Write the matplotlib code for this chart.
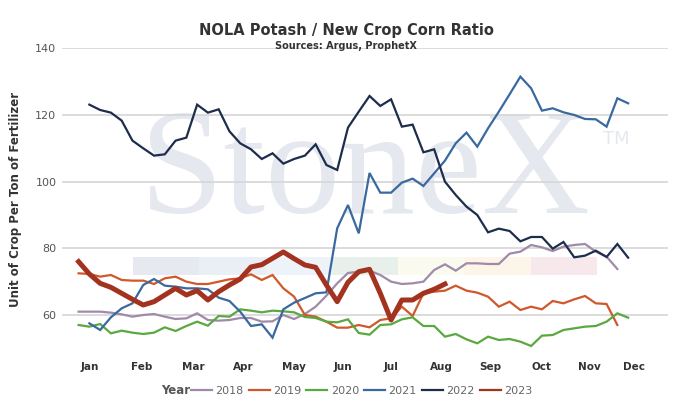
import matplotlib
matplotlib.use("Agg")
import matplotlib.pyplot as plt
from matplotlib.patches import Rectangle
from matplotlib.lines import Line2D

# ---------------- data ----------------
years = ["2018", "2019", "2020", "2021", "2022", "2023"]

weeks_2018 = list(range(1, 52))
val_2018 = [61.0, 61.0, 61.0, 60.7, 60.2, 59.5, 60.0, 60.3, 59.5, 58.8,
            59.0, 60.5, 58.5, 58.3, 58.5, 59.1, 59.1, 58.0, 58.1, 60.0,
            58.8, 60.3, 62.5, 65.8, 69.5, 72.6, 73.0, 73.3, 72.0, 70.0,
            69.3, 69.5, 70.0, 73.5, 75.2, 73.3, 75.5, 75.5, 75.3, 75.3,
            78.4, 79.0, 81.0, 80.3, 79.2, 80.5, 81.0, 81.3, 79.0, 77.5, 73.8]

weeks_2019 = list(range(1, 52))
val_2019 = [72.5, 72.3, 71.5, 72.0, 70.5, 70.3, 70.3, 69.3, 71.0, 71.5,
            70.0, 69.3, 69.3, 70.0, 70.7, 71.0, 72.2, 70.5, 72.0, 68.0,
            65.5, 60.0, 59.5, 58.0, 56.2, 56.2, 57.0, 56.3, 58.5, 59.0,
            62.5, 59.7, 66.5, 67.0, 67.3, 68.8, 67.3, 66.7, 65.5, 62.5,
            64.0, 61.5, 62.5, 61.7, 64.2, 63.5, 64.7, 65.7, 63.5, 63.3, 57.0]

weeks_2020 = list(range(1, 53))
val_2020 = [57.0, 56.5, 57.3, 54.5, 55.3, 54.7, 54.3, 54.7, 56.3, 55.2,
            56.7, 58.0, 56.8, 59.7, 59.5, 61.7, 61.3, 60.8, 61.3, 61.1,
            60.8, 59.4, 59.1, 58.0, 57.8, 58.7, 54.6, 54.1, 57.0, 57.2,
            58.7, 59.3, 56.7, 56.7, 53.5, 54.3, 52.7, 51.5, 53.5, 52.5,
            52.8, 52.0, 50.7, 53.8, 54.0, 55.5, 56.0, 56.5, 56.7, 58.0,
            60.5, 59.2]

weeks_2021 = list(range(2, 53))
val_2021 = [57.5, 55.5, 59.3, 62.0, 63.5, 69.0, 70.8, 68.8, 68.5, 68.0,
            68.0, 67.7, 65.2, 64.2, 61.0, 56.7, 57.2, 53.2, 61.7, 63.7,
            65.1, 66.5, 66.8, 86.0, 93.0, 84.5, 102.6, 96.7, 96.7, 99.7,
            100.9, 98.7, 102.5, 106.3, 111.5, 114.7, 110.5, 116.0, 121.0, 126.2,
            131.5, 128.0, 121.3, 122.0, 120.8, 120.0, 118.8, 118.7, 116.5, 125.0,
            123.5]

weeks_2022 = list(range(2, 53))
val_2022 = [123.1, 121.5, 120.7, 118.3, 112.3, 110.0, 107.8, 108.2, 112.3, 113.2,
            123.1, 120.7, 121.7, 115.1, 111.5, 109.7, 106.8, 108.5, 105.4, 106.8,
            107.8, 111.2, 105.0, 103.5, 116.2, 121.0, 125.7, 122.7, 124.7, 116.5,
            117.1, 108.8, 109.7, 100.0, 96.0, 92.5, 90.0, 84.8, 85.9, 85.2,
            82.1, 83.4, 83.4, 79.9, 81.9, 77.3, 77.8, 79.3, 77.4, 81.3, 77.2]

weeks_2023 = list(range(1, 36))
val_2023 = [76.0, 72.3, 69.5, 68.3, 66.5, 64.7, 63.0, 64.0, 66.0, 68.0,
            66.0, 67.3, 64.5, 67.0, 69.0, 70.8, 74.4, 75.1, 77.0, 78.9,
            76.9, 75.0, 74.3, 69.0, 64.0, 69.8, 73.0, 73.7, 66.5, 58.5,
            64.5, 64.5, 66.5, 67.7, 69.3]

month_labels = ["Jan", "Feb", "Mar", "Apr", "May", "Jun",
                "Jul", "Aug", "Sep", "Oct", "Nov", "Dec"]
month_pos = [2.06, 6.89, 11.63, 16.27, 21.0, 25.55,
             30.0, 34.65, 39.2, 43.93, 48.4, 52.57]
y_ticks = [60, 80, 100, 120, 140]

# ---------------- style ----------------
colors = {"2018": "#a08aa8", "2019": "#d0582a", "2020": "#5aa840",
          "2021": "#3a699f", "2022": "#1d2d4b", "2023": "#a3321f"}
widths = {"2018": 1.6, "2019": 1.6, "2020": 1.6, "2021": 1.6, "2022": 1.6, "2023": 3.6}

series = {"2018": (weeks_2018, val_2018), "2019": (weeks_2019, val_2019),
          "2020": (weeks_2020, val_2020), "2021": (weeks_2021, val_2021),
          "2022": (weeks_2022, val_2022), "2023": (weeks_2023, val_2023)}

fig = plt.figure(figsize=(6.82, 4.04), dpi=100)
ax = fig.add_axes([62 / 682, 1 - 350 / 404, 606 / 682, (350 - 48.3) / 404])

ax.set_xlim(-0.54, 55.7)
ax.set_ylim(49.5, 140)

# watermark
ax.text(0.5, 0.575, "StoneX", transform=ax.transAxes, ha="center", va="center",
        fontsize=108, family="Liberation Serif", color="#e5e9ef", zorder=0)
ax.text(0.915, 0.70, "TM", transform=ax.transAxes, ha="center", va="center",
        fontsize=13, family="DejaVu Sans", color="#e5e9ef", zorder=0)
band_colors = ["#e6e9ef", "#eaeef5", "#eef3f9", "#e7f0ea", "#fafbee", "#fdf5ea", "#f6e8eb"]
bx0 = (133 - 62) / 606
bw = (597 - 133) / 606 / 7
for i, c in enumerate(band_colors):
    ax.add_patch(Rectangle((bx0 + i * bw, 0.2496), bw, 0.0597, transform=ax.transAxes,
                           facecolor=c, edgecolor="none", zorder=0.5))

ax.set_yticks(y_ticks)
ax.grid(axis="y", color="#d6d6d6", linewidth=1.2, zorder=1)
ax.set_axisbelow(True)
for s in ax.spines.values():
    s.set_visible(False)

ax.set_xticks(month_pos)
ax.set_xticklabels(month_labels, fontsize=7.5, fontweight="bold", color="#333333")
ax.tick_params(axis="x", length=0, pad=9)
ax.tick_params(axis="y", length=0, pad=4, labelsize=8, labelcolor="#555555")

handles = []
for y in years:
    wk, v = series[y]
    ax.plot(wk, v, color=colors[y], linewidth=widths[y], zorder=3,
            solid_joinstyle="miter" if y != "2023" else "round")
    handles.append(Line2D([0], [0], color=colors[y], linewidth=1.6))

ax.set_ylabel("Unit of Crop Per Ton of Fertilizer", fontsize=8.5, fontweight="bold",
              color="#333333")
ax.yaxis.set_label_coords(-0.066, 0.5)

fig.text(346 / 682, 1 - 30 / 404, "NOLA Potash / New Crop Corn Ratio", ha="center", va="center",
         fontsize=10.5, fontweight="bold", color="#333333")
fig.text(346 / 682, 1 - 46 / 404, "Sources: Argus, ProphetX", ha="center", va="center",
         fontsize=7, fontweight="bold", color="#333333")

fig.text(161 / 682, 1 - 391 / 404, "Year", ha="left", va="center",
         fontsize=8.5, fontweight="bold", color="#555555")
leg = fig.legend(handles, years, loc="center left", bbox_to_anchor=(191 / 682, 1 - 391 / 404),
                 ncol=6, frameon=False, fontsize=8, handlelength=1.9, handletextpad=0.3,
                 columnspacing=0.45, borderaxespad=0, borderpad=0)
for t in leg.get_texts():
    t.set_color("#666666")

fig.savefig("out.png", dpi=100, facecolor="white")
